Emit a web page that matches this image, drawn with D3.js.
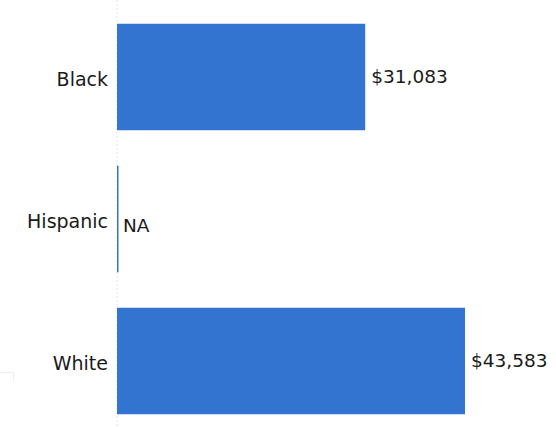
<!DOCTYPE html>
<html>
<head>
<meta charset="utf-8">
<script src="https://cdn.jsdelivr.net/npm/d3@7"></script>
<style>
  body { margin: 0; background: #fff; }
  svg { display: block; font-family: "DejaVu Sans", "Noto Sans", sans-serif; }
</style>
</head>
<body>
<svg width="556" height="427"></svg>
<script>
// chart data
var groups = ["Black", "Hispanic", "White"];
var earnings = [31083, null, 43583];

var svg = d3.select("svg");
var x0 = 117;

// x scale: 0 at the axis line
var x = d3.scaleLinear()
  .domain([0, 43583])
  .range([x0, 465]);

var y = d3.scaleBand()
  .domain(groups)
  .range([6, 432])
  .paddingInner(0.25)
  .paddingOuter(0.125);

// dotted baseline
svg.append("line")
  .attr("x1", x0).attr("x2", x0)
  .attr("y1", 0).attr("y2", 427)
  .attr("stroke", "#e6e6e6")
  .attr("stroke-width", 1)
  .attr("stroke-dasharray", "2,2");

// little faint corner mark bottom left
svg.append("path")
  .attr("d", "M0,372.5H13.5V380")
  .attr("fill", "none")
  .attr("stroke", "#ececec");

var rows = groups.map(function(g, i){ return {group: g, value: earnings[i]}; });

svg.selectAll("rect.bar")
  .data(rows)
  .enter()
  .append("rect")
  .attr("class", "bar")
  .attr("x", x0)
  .attr("y", function(d){ return y(d.group); })
  .attr("height", y.bandwidth())
  .attr("width", function(d){ return d.value == null ? 1.5 : x(d.value) - x0; })
  .attr("fill", "#3374D0");

// value labels (NA sits a bit lower, like the original)
var fmt = d3.format("$,");
svg.selectAll("text.val")
  .data(rows)
  .enter()
  .append("text")
  .attr("class", "val")
  .attr("x", function(d){ return (d.value == null ? x0 + 6 : x(d.value) + 6); })
  .attr("y", function(d){ return y(d.group) + y.bandwidth() / 2 + (d.value == null ? 7 : 0); })
  .attr("dy", "0.35em")
  .attr("font-size", 18.5)
  .attr("fill", "#1a1a1a")
  .text(function(d){ return d.value == null ? "NA" : fmt(d.value); });

// category labels
svg.selectAll("text.cat")
  .data(groups)
  .enter()
  .append("text")
  .attr("class", "cat")
  .attr("x", 108)
  .attr("y", function(d){ return y(d) + y.bandwidth() / 2 + 2; })
  .attr("dy", "0.35em")
  .attr("text-anchor", "end")
  .attr("font-size", 19)
  .attr("fill", "#1a1a1a")
  .text(function(d){ return d; });
</script>
</body>
</html>
